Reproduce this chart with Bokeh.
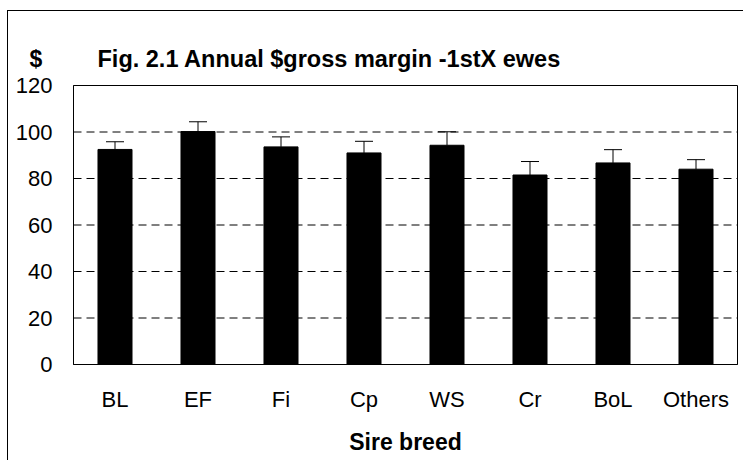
from bokeh.plotting import figure
from bokeh.models import (ColumnDataSource, Range1d, FixedTicker,
                          Whisker, TeeHead, Label, PlainText)
from bokeh.embed import file_html
from bokeh.resources import INLINE

# ---- data ----
breeds = ["BL", "EF", "Fi", "Cp", "WS", "Cr", "BoL", "Others"]
margin = [92.5, 100.2, 93.6, 91.0, 94.3, 81.5, 86.7, 84.0]
err_up = [3.3, 4.2, 4.3, 5.0, 5.8, 5.8, 5.7, 4.1]
y_ticks = [0, 20, 40, 60, 80, 100, 120]

title_text = "Fig. 2.1 Annual $gross margin -1stX ewes"
y_title = "$"
x_title = "Sire breed"

# ---- layout constants (pixels inside the figure canvas) ----
W, H = 736, 450
PX_X = 83.0            # px per category
PX_Y = 279.0 / 120.0   # px per $ unit
LEFT_PX, TOP_PX = 65, 74   # plot-area position inside the canvas

xpos = list(range(len(breeds)))
upper = [m + e for m, e in zip(margin, err_up)]
src = ColumnDataSource(dict(x=xpos, top=margin, upper=upper))

x0 = -0.5 - LEFT_PX / PX_X
x1 = x0 + W / PX_X
y1 = 120 + TOP_PX / PX_Y
y0 = y1 - H / PX_Y

p = figure(x_range=Range1d(x0, x1), y_range=Range1d(y0, y1),
           width=W, height=H,
           output_backend="svg", toolbar_location=None,
           min_border=0, min_border_left=0, min_border_right=0,
           min_border_top=0, min_border_bottom=0,
           styles={"margin-top": "10px", "margin-left": "7px",
                   "border-top": "1px solid #000", "border-left": "1px solid #000"})

p.outline_line_color = None
p.xgrid.visible = False
p.ygrid.visible = False

# dashed gridlines inside the plot area
gy = [t for t in y_ticks if 0 < t < 120]
p.segment(x0=[-0.5] * len(gy), x1=[len(breeds) - 0.5] * len(gy), y0=gy, y1=gy,
          line_color="black", line_width=1, line_dash="8 5")

# plot-area box
p.quad(left=[-0.5], right=[len(breeds) - 0.5], bottom=[y_ticks[0]], top=[y_ticks[-1]],
       fill_color=None, line_color="black", line_width=1)

# y axis
p.yaxis.fixed_location = -0.5
p.yaxis.bounds = (y_ticks[0], y_ticks[-1])
p.yaxis.ticker = FixedTicker(ticks=y_ticks)
p.yaxis.axis_line_color = "black"
p.yaxis.major_tick_line_color = None
p.yaxis.minor_tick_line_color = None
p.yaxis.major_tick_out = 0
p.yaxis.major_tick_in = 0
p.yaxis.major_label_standoff = 21
p.yaxis.major_label_text_font = "Liberation Sans"
p.yaxis.major_label_text_font_size = "22px"
p.yaxis.major_label_text_color = "black"

# x axis
p.xaxis.fixed_location = 0
p.xaxis.bounds = (-0.5, len(breeds) - 0.5)
p.xaxis.ticker = FixedTicker(ticks=xpos)
p.xaxis.major_label_overrides = {i: b for i, b in zip(xpos, breeds)}
p.xaxis.axis_line_color = "black"
p.xaxis.major_tick_line_color = None
p.xaxis.minor_tick_line_color = None
p.xaxis.major_tick_out = 0
p.xaxis.major_tick_in = 0
p.xaxis.major_label_standoff = 22
p.xaxis.major_label_text_font = "Liberation Sans"
p.xaxis.major_label_text_font_size = "22px"
p.xaxis.major_label_text_color = "black"
p.xaxis.axis_label = x_title
p.xaxis.axis_label_text_font = "Liberation Sans"
p.xaxis.axis_label_text_font_style = "bold"
p.xaxis.axis_label_text_font_size = "23px"
p.xaxis.axis_label_text_color = "black"
p.xaxis.axis_label_standoff = 14

# bars
p.vbar(x="x", top="top", width=0.41, source=src,
       fill_color="black", line_color="black", line_width=1)

# error bars (upper only)
w = Whisker(base="x", lower="top", upper="upper", source=src,
            dimension="height", line_color="black", line_width=1,
            lower_head=None,
            upper_head=TeeHead(size=18, line_color="black", line_width=1))
p.add_layout(w)

# titles
p.add_layout(Label(x=-0.5 + (35.3 - 73) / PX_X, y=131.6,
                   text=PlainText(y_title), text_align="center",
                   text_baseline="alphabetic", text_font="Liberation Sans",
                   text_font_style="bold", text_font_size="23px",
                   text_color="black"))
p.add_layout(Label(x=-0.5 + (97 - 73) / PX_X, y=131.4,
                   text=PlainText(title_text), text_align="left",
                   text_baseline="alphabetic", text_font="Liberation Sans",
                   text_font_style="bold", text_font_size="23.5px",
                   text_color="black"))

open("out.html", "w").write(file_html(p, INLINE))
